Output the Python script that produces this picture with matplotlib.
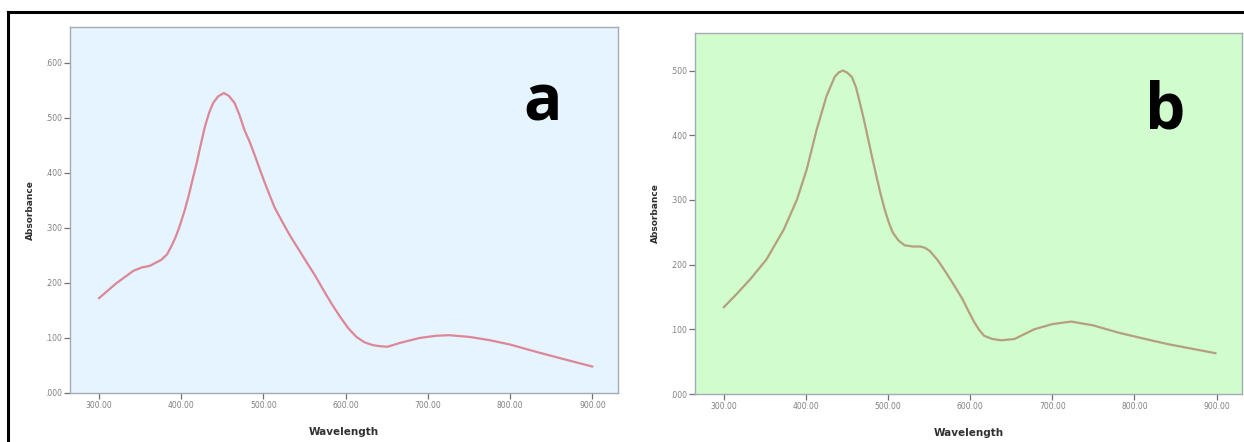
import matplotlib
matplotlib.use("Agg")
import matplotlib.pyplot as plt
from matplotlib.lines import Line2D
from matplotlib.ticker import FuncFormatter

# panel a spectrum
wl_a = [300, 321, 342, 352, 362, 376, 383, 388, 393, 398, 404, 409, 414, 419,
        424, 429, 434, 439, 445, 452, 458, 465, 471, 477, 484, 490, 496, 502,
        508, 514, 523, 532, 542, 552, 563, 573, 583, 593, 603, 613, 623, 633,
        642, 651, 666, 690, 710, 726, 750, 775, 800, 836, 869, 900]
abs_a = [0.172, 0.199, 0.222, 0.228, 0.231, 0.242, 0.252, 0.266, 0.282, 0.302,
         0.330, 0.357, 0.388, 0.418, 0.452, 0.484, 0.509, 0.527, 0.539, 0.545,
         0.540, 0.527, 0.505, 0.478, 0.454, 0.430, 0.405, 0.381, 0.358, 0.336,
         0.311, 0.287, 0.263, 0.239, 0.213, 0.187, 0.162, 0.139, 0.118, 0.102,
         0.092, 0.087, 0.085, 0.084, 0.091, 0.100, 0.104, 0.105, 0.102, 0.096,
         0.088, 0.073, 0.060, 0.048]

# panel b spectrum
wl_b = [300, 316, 332, 352, 373, 389, 401, 413, 425, 435, 440, 445, 450, 456,
        461, 466, 471, 476, 481, 486, 491, 496, 501, 506, 513, 520, 530, 539,
        545, 551, 561, 571, 581, 591, 598, 605, 611, 617, 627, 638, 654, 678,
        700, 723, 750, 780, 810, 841, 870, 899]
abs_b = [0.134, 0.155, 0.177, 0.208, 0.254, 0.300, 0.347, 0.408, 0.460, 0.490,
         0.497, 0.500, 0.497, 0.490, 0.474, 0.449, 0.422, 0.393, 0.364, 0.336,
         0.309, 0.285, 0.265, 0.249, 0.237, 0.230, 0.228, 0.228, 0.226, 0.221,
         0.206, 0.187, 0.167, 0.146, 0.128, 0.111, 0.099, 0.090, 0.085, 0.083,
         0.085, 0.100, 0.108, 0.112, 0.106, 0.095, 0.086, 0.077, 0.070, 0.063]

x_ticks = [300, 400, 500, 600, 700, 800, 900]
y_ticks_a = [0, 0.1, 0.2, 0.3, 0.4, 0.5, 0.6]
y_ticks_b = [0, 0.1, 0.2, 0.3, 0.4, 0.5]

fig = plt.figure(figsize=(12.44, 4.42), dpi=100)
fig.patch.set_facecolor("white")

# outer frame (left and top edges are visible)
fig.add_artist(Line2D([8 / 1244, 8 / 1244], [0, 1 - 12 / 442], color="black", lw=2.2))
fig.add_artist(Line2D([8 / 1244, 1], [1 - 12 / 442, 1 - 12 / 442], color="black", lw=2.2))


def style(ax, bg, yticks, ylim):
    ax.set_facecolor(bg)
    for s in ax.spines.values():
        s.set_color("#a4abb2")
        s.set_linewidth(1.0)
    ax.set_xlim(265, 931)
    ax.set_ylim(0, ylim)
    ax.set_xticks(x_ticks)
    ax.set_yticks(yticks)
    ax.xaxis.set_major_formatter(FuncFormatter(lambda v, p: f"{v:.2f}"))
    ax.yaxis.set_major_formatter(FuncFormatter(lambda v, p: f"{v:.3f}".lstrip("0")))
    ax.tick_params(axis="both", direction="out", length=4, width=0.9,
                   color="#707070", labelsize=5.5, labelcolor="#808080", pad=2)
    ax.set_xlabel("Wavelength", fontsize=7.5, fontweight="bold", color="#303030", labelpad=12)
    ax.set_ylabel("Absorbance", fontsize=6.5, fontweight="bold", color="#303030", labelpad=7)


ax1 = fig.add_axes([70 / 1244, 49 / 442, 548 / 1244, 366 / 442])
style(ax1, "#e6f4ff", y_ticks_a, 0.665)
ax1.plot(wl_a, abs_a, color="#dc8696", lw=1.6, solid_capstyle="round")
ax1.text(543 / 1244, 1 - 104 / 442, "a", transform=fig.transFigure, fontsize=46,
         fontweight="bold", ha="center", va="center", family="Open Sans")

ax2 = fig.add_axes([695 / 1244, 48 / 442, 547 / 1244, 361 / 442])
style(ax2, "#d0fcce", y_ticks_b, 0.558)
ax2.plot(wl_b, abs_b, color="#b59f7c", lw=1.6, solid_capstyle="round")
ax2.text(1165 / 1244, 1 - 112 / 442, "b", transform=fig.transFigure, fontsize=46,
         fontweight="bold", ha="center", va="center", family="Open Sans")

fig.savefig("out.png", dpi=100)
